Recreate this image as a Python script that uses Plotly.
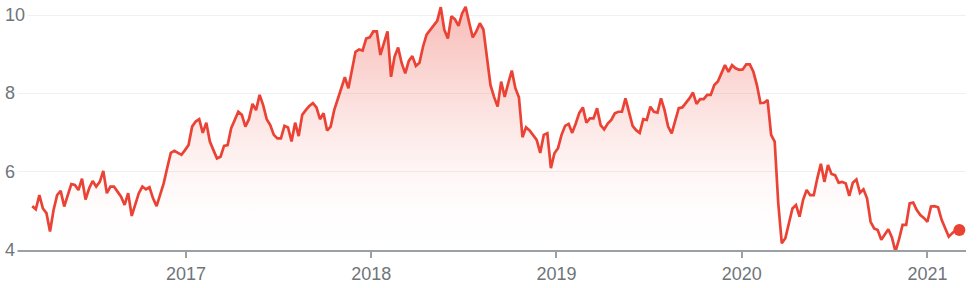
import pandas as pd
import plotly.graph_objects as go

# ---- data (weekly closes) ----
start_date = "2016-03-04"
end_date = "2021-03-05"
prices = [
    5.12, 5.04, 5.40, 5.06, 4.94, 4.47, 5.02, 5.40, 5.51, 5.11,
    5.40, 5.68, 5.66, 5.53, 5.82, 5.29, 5.57, 5.76, 5.62, 5.74,
    6.02, 5.45, 5.62, 5.62, 5.49, 5.36, 5.15, 5.45, 4.87, 5.19,
    5.45, 5.62, 5.55, 5.60, 5.32, 5.12, 5.40, 5.70, 6.10, 6.48,
    6.53, 6.48, 6.43, 6.55, 6.68, 7.15, 7.28, 7.34, 6.99, 7.25,
    6.77, 6.55, 6.34, 6.38, 6.66, 6.68, 7.11, 7.32, 7.53, 7.45,
    7.15, 7.34, 7.73, 7.57, 7.96, 7.70, 7.34, 7.19, 6.94, 6.85,
    6.85, 7.17, 7.13, 6.77, 7.25, 6.91, 7.45, 7.57, 7.68, 7.75,
    7.64, 7.34, 7.49, 7.05, 7.15, 7.57, 7.85, 8.13, 8.41, 8.13,
    8.55, 9.06, 9.12, 9.09, 9.40, 9.43, 9.58, 9.58, 8.98, 9.29,
    9.58, 8.42, 8.94, 9.17, 8.77, 8.51, 8.83, 8.95, 8.70, 8.78,
    9.19, 9.50, 9.62, 9.72, 9.85, 10.20, 9.62, 9.40, 9.97, 9.89,
    9.72, 10.04, 10.21, 9.80, 9.43, 9.58, 9.79, 9.63, 8.94, 8.21,
    7.91, 7.66, 8.30, 7.91, 8.26, 8.58, 8.13, 7.90, 6.88, 7.13,
    7.05, 6.94, 6.81, 6.48, 6.94, 6.98, 6.09, 6.47, 6.60, 6.94,
    7.17, 7.22, 6.99, 7.23, 7.50, 7.64, 7.25, 7.36, 7.36, 7.62,
    7.19, 7.08, 7.23, 7.32, 7.49, 7.53, 7.53, 7.87, 7.53, 7.17,
    7.06, 6.99, 7.34, 7.32, 7.66, 7.53, 7.51, 7.87, 7.57, 7.15,
    6.98, 7.32, 7.62, 7.64, 7.75, 7.87, 8.02, 7.73, 7.85, 7.85,
    7.96, 7.96, 8.21, 8.30, 8.51, 8.72, 8.55, 8.72, 8.64, 8.60,
    8.61, 8.74, 8.74, 8.55, 8.21, 7.75, 7.76, 7.83, 6.94, 6.77,
    5.20, 4.17, 4.30, 4.68, 5.06, 5.15, 4.85, 5.28, 5.53, 5.40,
    5.40, 5.83, 6.20, 5.74, 6.17, 5.94, 5.91, 5.72, 5.74, 5.70,
    5.38, 5.72, 5.80, 5.46, 5.55, 5.32, 4.72, 4.55, 4.51, 4.26,
    4.41, 4.53, 4.32, 3.96, 4.27, 4.64, 4.64, 5.19, 5.21, 5.02,
    4.89, 4.82, 4.72, 5.11, 5.12, 5.09, 4.77, 4.55, 4.34, 4.43,
    4.51, 4.51,
]
year_ticks = ["2017-01-01", "2018-01-01", "2019-01-01", "2020-01-01", "2021-01-01"]
year_labels = ["2017", "2018", "2019", "2020", "2021"]
y_ticks = [4, 6, 8, 10]
y_labels = ["4", "6", "8", "10"]

dates = pd.date_range(start_date, end_date, freq="W-FRI")

RED = "#ea4335"
GREY_TXT = "#70757a"
FONT = "Arial, Liberation Sans, sans-serif"

fig = go.Figure()
fig.add_trace(go.Scatter(
    x=dates, y=prices, mode="lines",
    line=dict(color=RED, width=2.7),
    fill="tozeroy",
    fillgradient=dict(
        type="vertical", start=4, stop=10.2,
        colorscale=[
            [0.0, "rgba(234,67,53,0)"],
            [0.161, "rgba(234,67,53,0.012)"],
            [0.323, "rgba(234,67,53,0.05)"],
            [0.484, "rgba(234,67,53,0.11)"],
            [0.645, "rgba(234,67,53,0.18)"],
            [0.806, "rgba(234,67,53,0.26)"],
            [1.0, "rgba(234,67,53,0.35)"],
        ],
    ),
    hoverinfo="skip", showlegend=False,
))
fig.add_trace(go.Scatter(
    x=[dates[-1]], y=[prices[-1]], mode="markers",
    marker=dict(color=RED, size=12),
    hoverinfo="skip", showlegend=False,
))

for v, t in zip(y_ticks, y_labels):
    fig.add_annotation(
        x=0, xref="paper", y=v, yref="y", text=t, showarrow=False,
        xanchor="left", yanchor="middle", xshift=-13,
        bgcolor="white", borderpad=2,
        font=dict(family=FONT, size=18, color=GREY_TXT),
    )

fig.update_layout(
    width=977, height=288,
    margin=dict(l=15, r=11, t=0, b=38),
    paper_bgcolor="white", plot_bgcolor="white",
    font=dict(family=FONT, size=18, color=GREY_TXT),
    xaxis=dict(
        type="date", range=["2016-01-30", "2021-03-18"],
        tickvals=year_ticks, ticktext=year_labels,
        showgrid=False, zeroline=False,
        showline=True, linecolor="#9aa0a6", linewidth=2,
        ticks="outside", ticklen=6, tickwidth=2, tickcolor="#9aa0a6",
        tickfont=dict(family=FONT, size=18, color=GREY_TXT),
    ),
    yaxis=dict(
        range=[4, 10.383], tickvals=y_ticks, showticklabels=False,
        showgrid=True, gridcolor="#f0f0f0", gridwidth=1,
        zeroline=False, showline=False, ticks="",
    ),
)

fig.write_html("out.html")
